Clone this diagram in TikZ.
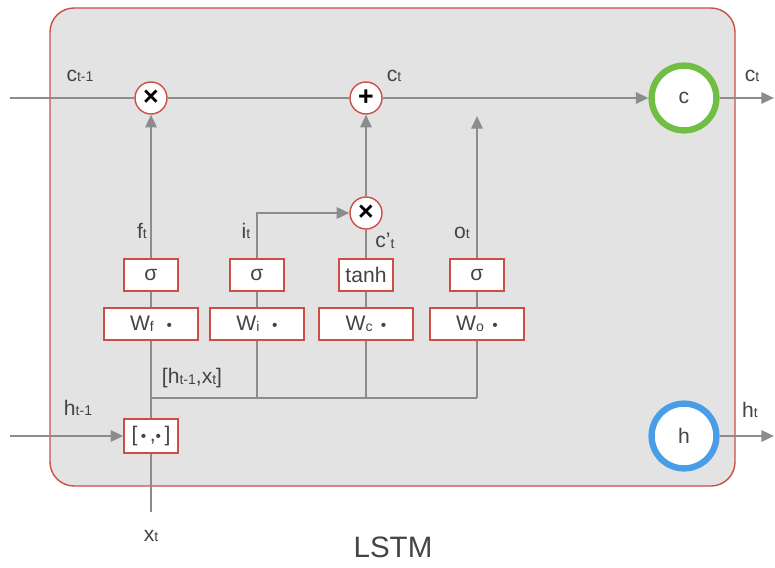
\documentclass[tikz,border=0pt]{standalone}
\usepackage{fontspec}
\setmainfont{Liberation Sans}
\usetikzlibrary{arrows.meta,positioning}
\definecolor{cellbg}{RGB}{227,227,227}
\definecolor{cellred}{RGB}{204,78,68}
\definecolor{wiregray}{RGB}{140,140,140}
\definecolor{labelgray}{RGB}{68,68,68}
\definecolor{cgreen}{RGB}{112,190,68}
\definecolor{hblue}{RGB}{74,158,232}
\newcommand{\sbs}[1]{\raisebox{-0.5pt}{\fontsize{10}{10}\selectfont #1}}
\newcommand{\wdot}{{\fontsize{11}{11}\selectfont\textbullet}}

\begin{document}
\begin{tikzpicture}[x=0.025cm,y=-0.025cm,
    font=\fontsize{15}{17}\selectfont, text=labelgray,
    wire/.style={draw=wiregray, line width=1.8pt},
    flow/.style={wire, -{Triangle[length=9pt,width=8pt]}},
    gatebox/.style={draw=cellred, fill=white, line width=1pt, minimum width=1.35cm, minimum height=0.8cm, inner sep=0pt},
    weightbox/.style={gatebox, minimum width=2.35cm},
    opnode/.style={circle, draw=cellred, fill=white, line width=1pt, minimum size=0.8cm, inner sep=0pt, text=black, font=\fontsize{19}{19}\selectfont\bfseries},
    statenode/.style={circle, fill=white, line width=4.5pt, minimum size=1.62cm, inner sep=0pt}]

    % frame and cell body
    \useasboundingbox (0,0) rectangle (775,567);
    \draw[draw=cellred, fill=cellbg, line width=1pt, rounded corners=0.6cm] (50,8) rectangle (735,486);

    % free ends of the wires
    \coordinate (cin) at (10,98);
    \coordinate (cout) at (774,98);
    \coordinate (hin) at (10,436);
    \coordinate (hout) at (774,436);
    \coordinate (xin) at (151,512);
    \coordinate (oend) at (477,116);
    \coordinate (busl) at (151,398);
    \coordinate (busr) at (477,398);

    % point-wise operations
    \node[opnode] (mulf) at (151,98) {×};
    \node[opnode] (add) at (366,98) {+};
    \node[opnode] (muli) at (366,213) {×};

    % states
    \node[statenode, draw=cgreen] (cstate) at (684,98) {c};
    \node[statenode, draw=hblue] (hstate) at (684,436) {h};

    % activations
    \node[gatebox] (sf) at (151,275) {σ};
    \node[gatebox] (si) at (257,275) {σ};
    \node[gatebox] (tc) at (366,275) {tanh};
    \node[gatebox] (so) at (477,275) {σ};

    % weights
    \node[weightbox] (wf) at (151,324) {W\sbs{f}\hspace{0.6em}\wdot};
    \node[weightbox] (wi) at (257,324) {W\sbs{i}\hspace{0.6em}\wdot};
    \node[weightbox] (wc) at (366,324) {W\sbs{c}\hspace{0.4em}\wdot};
    \node[weightbox] (wo) at (477,324) {W\sbs{o}\hspace{0.4em}\wdot};

    % concatenation
    \node[gatebox, minimum height=0.85cm] (cat) at (151,436) {[\,\wdot\,,\wdot\,]};

    % cell state line
    \draw[wire] (cin) -- (mulf);
    \draw[wire] (mulf) -- (add);
    \draw[flow] (add) -- (cstate);
    \draw[flow] (cstate) -- (cout);

    % gates
    \draw[wire] (cat) -- (wf);
    \draw[wire] (wf) -- (sf);
    \draw[flow] (sf) -- (mulf);
    \draw[wire] (wi) -- (si);
    \draw[flow] (si) |- (muli);
    \draw[wire] (wc) -- (tc);
    \draw[wire] (tc) -- (muli);
    \draw[flow] (muli) -- (add);
    \draw[wire] (wo) -- (so);
    \draw[flow] (so) -- (oend);

    % input bus
    \draw[wire] (busl) -- (busr);
    \draw[wire] (wi) -- (wi |- busl);
    \draw[wire] (wc) -- (wc |- busl);
    \draw[wire] (wo) -- (busr);
    \draw[flow] (hin) -- (cat);
    \draw[wire] (xin) -- (cat);
    \draw[flow] (hstate) -- (hout);

    % labels
    \node (lcprev) at (80,76) {c\sbs{t-1}};
    \node (lcnew) at (394,76) {c\sbs{t}};
    \node (lcout) at (752,76) {c\sbs{t}};
    \node (lhprev) at (78,408) {h\sbs{t-1}};
    \node (lhout) at (750,410) {h\sbs{t}};
    \node (lf) at (142,231) {f\sbs{t}};
    \node (li) at (246,231) {i\sbs{t}};
    \node (lcc) at (385,241) {c'\sbs{t}};
    \node (lo) at (462,233) {o\sbs{t}};
    \node (lhx) at (192,378) {[h\sbs{t-1},x\sbs{t}]};
    \node (lx) at (151,536) {x\sbs{t}};
    \node[font=\fontsize{21}{23}\selectfont] (title) at (393,547) {LSTM};
\end{tikzpicture}
\end{document}
